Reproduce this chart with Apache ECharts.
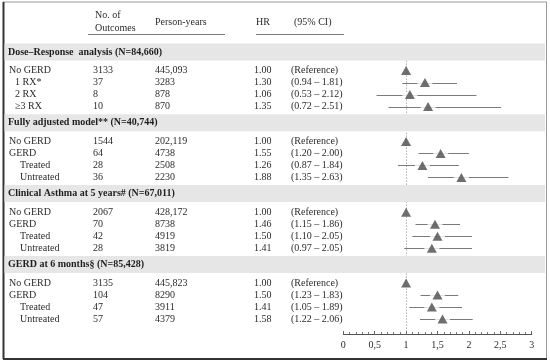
<!DOCTYPE html>
<html><head><meta charset="utf-8">
<script src="https://cdn.jsdelivr.net/npm/echarts@6/dist/echarts.min.js"></script>
<style>html,body{margin:0;padding:0;background:#fff}#c{width:550px;height:364px}</style>
</head><body><div id="c"></div>
<script>
// ---------- data ----------
const groupTitles = ['Dose\u2013Response  analysis (N=84,660)', 'Fully adjusted model** (N=40,744)', 'Clinical Asthma at 5 years# (N=67,011)', 'GERD at 6 months\u00a7 (N=85,428)'];
const rowLabels = ['No GERD', '1 RX*', '2 RX', '\u22653 RX', 'No GERD', 'GERD', 'Treated', 'Untreated', 'No GERD', 'GERD', 'Treated', 'Untreated', 'No GERD', 'GERD', 'Treated', 'Untreated'];
const rowGroup = [0,0,0,0, 1,1,1,1, 2,2,2,2, 3,3,3,3];
const outcomes = [3133, 37, 8, 10, 1544, 64, 28, 36, 2067, 70, 42, 28, 3135, 104, 47, 57];
const personYears = ['445,093', '3283', '878', '870', '202,119', '4738', '2508', '2230', '428,172', '8738', '4919', '3819', '445,823', '8290', '3911', '4379'];
const hr = [1.00, 1.30, 1.06, 1.35, 1.00, 1.55, 1.26, 1.88, 1.00, 1.46, 1.50, 1.41, 1.00, 1.50, 1.41, 1.58];
const ciLow = [null, 0.94, 0.53, 0.72, null, 1.20, 0.87, 1.35, null, 1.15, 1.10, 0.97, null, 1.23, 1.05, 1.22];
const ciHigh = [null, 1.81, 2.12, 2.51, null, 2.00, 1.84, 2.63, null, 1.86, 2.05, 2.05, null, 1.83, 1.89, 2.06];
const xTickLabels = ['0', '0,5', '1', '1,5', '2', '2,5', '3'];
const headers = { outcomes: ['No. of', 'Outcomes'], personYears: 'Person-years', hr: 'HR', ci: '(95% CI)' };

// ---------- layout ----------
const GROUP_STEP = 5.9, FIRST_ROW = 1.55;
const rowPos = rowLabels.map((l, i) => {
  const g = rowGroup[i];
  return g * GROUP_STEP + FIRST_ROW + (i - rowGroup.indexOf(g));
});
const bandPos = groupTitles.map((t, g) => g * GROUP_STEP);
const COL = { label: 9, outcomes: 93, py: 155, hr: 254, ci: 291 };
const FONT = '"Liberation Serif", "Times New Roman", serif';
const TXT = '#2b2b2b';
const Y_MIN = -1, Y_MAX = 23.5;
const GRID_TOP = 40, GRID_BOTTOM = 30;
function indentOf(label) {
  if (label === 'No GERD' || label === 'GERD') return 0;
  if (label.indexOf('RX') >= 0) return 6;
  return 11;
}

const tableRows = rowLabels.map((l, i) => [i, rowPos[i]]);
const bandData = groupTitles.map((t, g) => [g, bandPos[g]]);
const ciData = hr.map((h, i) => [ciLow[i], ciHigh[i], rowPos[i]]).filter(d => d[0] !== null);
const pointData = hr.map((h, i) => [h, rowPos[i]]);

const chart = echarts.init(document.getElementById('c'), null, { renderer: 'canvas' });
chart.setOption({
  animation: false,
  backgroundColor: '#fff',
  grid: [
    { left: 0, right: 0, top: GRID_TOP, bottom: GRID_BOTTOM },
    { left: 343.3, right: 18.3, top: GRID_TOP, bottom: GRID_BOTTOM }
  ],
  xAxis: [
    { gridIndex: 0, type: 'value', min: 0, max: 550, show: false },
    { gridIndex: 1, type: 'value', min: 0, max: 3, interval: 0.5, position: 'bottom',
      axisLine: { show: true, onZero: false, lineStyle: { color: '#555', width: 1 } },
      axisTick: { show: true, inside: true, length: 3, lineStyle: { color: '#666' } },
      minorTick: { show: true, splitNumber: 5, length: 2, lineStyle: { color: '#777' } },
      splitLine: { show: false },
      axisLabel: { margin: 6, color: TXT, fontFamily: FONT, fontSize: 10,
        formatter: v => xTickLabels[Math.round(v / 0.5)] } }
  ],
  yAxis: [
    { gridIndex: 0, type: 'value', inverse: true, min: Y_MIN, max: Y_MAX, show: false },
    { gridIndex: 1, type: 'value', inverse: true, min: Y_MIN, max: Y_MAX, show: false }
  ],
  graphic: [
    // frame
    { type: 'line', shape: { x1: 3, y1: 2, x2: 547, y2: 2 }, style: { stroke: '#9a9a9a', lineWidth: 1 } },
    { type: 'line', shape: { x1: 546.5, y1: 2, x2: 546.5, y2: 359 }, style: { stroke: '#9a9a9a', lineWidth: 1 } },
    { type: 'line', shape: { x1: 3.5, y1: 2, x2: 3.5, y2: 359 }, style: { stroke: '#333', lineWidth: 2 } },
    { type: 'line', shape: { x1: 3, y1: 359, x2: 547, y2: 359 }, style: { stroke: '#333', lineWidth: 2 } },
    // headers
    { type: 'text', x: 95, y: 15, style: { text: headers.outcomes[0], font: '10px ' + FONT, fill: TXT, verticalAlign: 'middle' } },
    { type: 'text', x: 95, y: 28, style: { text: headers.outcomes[1], font: '10px ' + FONT, fill: TXT, verticalAlign: 'middle' } },
    { type: 'text', x: 155, y: 22, style: { text: headers.personYears, font: '10px ' + FONT, fill: TXT, verticalAlign: 'middle' } },
    { type: 'text', x: 256, y: 22, style: { text: headers.hr, font: '10px ' + FONT, fill: TXT, verticalAlign: 'middle' } },
    { type: 'text', x: 294, y: 22, style: { text: headers.ci, font: '10px ' + FONT, fill: TXT, verticalAlign: 'middle' } },
    { type: 'line', shape: { x1: 88, y1: 34.5, x2: 225, y2: 34.5 }, style: { stroke: '#777', lineWidth: 1 } },
    { type: 'line', shape: { x1: 256, y1: 34.5, x2: 344, y2: 34.5 }, style: { stroke: '#777', lineWidth: 1 } }
  ],
  series: [
    // reference dotted line at HR = 1
    { type: 'custom', xAxisIndex: 1, yAxisIndex: 1, z: 1, silent: true, clip: false,
      data: [[1, bandPos[0] + 0.72, Y_MAX]],
      renderItem: (params, api) => {
        const p1 = api.coord([api.value(0), api.value(1)]);
        const p2 = api.coord([api.value(0), api.value(2)]);
        return { type: 'line', shape: { x1: Math.round(p1[0]) + 0.5, y1: p1[1], x2: Math.round(p2[0]) + 0.5, y2: p2[1] },
          style: { stroke: '#8a8a8a', lineWidth: 1, lineDash: [1, 2] } };
      } },
    // gray section bands with titles
    { type: 'custom', xAxisIndex: 0, yAxisIndex: 0, z: 3, silent: true, clip: false,
      data: bandData,
      renderItem: (params, api) => {
        const g = api.value(0);
        const c = api.coord([0, api.value(1)]);
        const a = api.coord([4.5, 0]), b = api.coord([545, 0]);
        return { type: 'group', children: [
          { type: 'rect', shape: { x: a[0], y: c[1] - 8.5, width: b[0] - a[0], height: 17 }, style: { fill: '#e6e6e6' } },
          { type: 'text', x: api.coord([COL.label, 0])[0] - 1, y: c[1],
            style: { text: groupTitles[g], font: 'bold 10px ' + FONT, fill: '#1e1e1e', verticalAlign: 'middle' } }
        ] };
      } },
    // table text
    { type: 'custom', xAxisIndex: 0, yAxisIndex: 0, z: 3, silent: true, clip: false,
      data: tableRows,
      renderItem: (params, api) => {
        const i = api.value(0);
        const y = api.coord([0, api.value(1)])[1];
        const t = (col, s) => ({ type: 'text', x: api.coord([col, 0])[0], y: y,
          style: { text: s, font: '10px ' + FONT, fill: TXT, verticalAlign: 'middle' } });
        const ci = ciLow[i] === null ? '(Reference)' : '(' + ciLow[i].toFixed(2) + ' \u2013 ' + ciHigh[i].toFixed(2) + ')';
        return { type: 'group', children: [
          t(COL.label + indentOf(rowLabels[i]), rowLabels[i]),
          t(COL.outcomes, String(outcomes[i])),
          t(COL.py, personYears[i]),
          t(COL.hr, hr[i].toFixed(2)),
          t(COL.ci, ci)
        ] };
      } },
    // confidence intervals
    { type: 'custom', xAxisIndex: 1, yAxisIndex: 1, z: 4, silent: true,
      data: ciData,
      renderItem: (params, api) => {
        const a = api.coord([api.value(0), api.value(2)]);
        const b = api.coord([api.value(1), api.value(2)]);
        const y = Math.round(a[1]) + 0.5;
        return { type: 'line', shape: { x1: a[0], y1: y, x2: b[0], y2: y }, style: { stroke: '#7a7a7a', lineWidth: 1 } };
      } },
    // white gap behind the point estimate
    { type: 'scatter', xAxisIndex: 1, yAxisIndex: 1, z: 5, silent: true,
      symbol: 'rect', symbolSize: [15, 4], itemStyle: { color: '#fff' }, data: pointData },
    // point estimates (HR)
    { type: 'scatter', xAxisIndex: 1, yAxisIndex: 1, z: 6, silent: true,
      symbol: 'triangle', symbolSize: [10, 9], itemStyle: { color: '#4a4a4a' }, data: pointData }
  ]
});
</script></body></html>
